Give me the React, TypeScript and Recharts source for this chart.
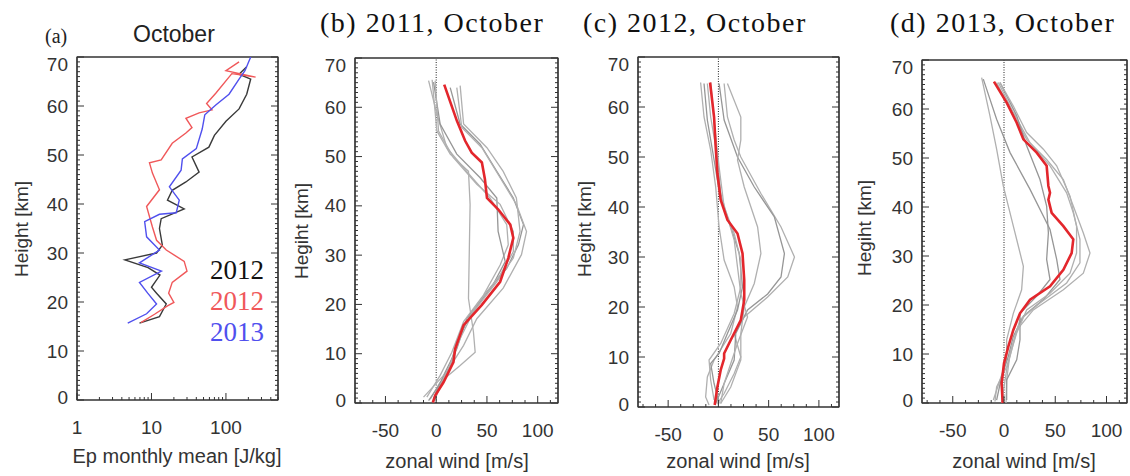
import { ScatterChart, Scatter, XAxis, YAxis, ReferenceLine, ReferenceArea } from 'recharts';

type P = [number, number]; // [value, height km]

// (a) Ep monthly mean, October
const epBlack: P[] = [[6.9,15.7],[12.8,17],[15.8,19.6],[11.7,21.8],[10,23],[13,25.5],[9,27],[4.4,28.6],[11.7,30],[14,31.6],[12.8,35],[13.5,37],[27.5,39],[16.4,40.8],[19,42.8],[29,44.5],[43.6,46.5],[35,49.6],[59,51.6],[70,54],[100,56.9],[150,59.4],[190,62.4],[215,65.5],[150,66.5],[190,68]];
const epRed: P[] = [[7.2,15.8],[11,17.5],[16.4,19.2],[20,19.9],[17,21.8],[19,24],[30,26.3],[27.5,28.3],[15.8,30.6],[11.7,32.6],[10.3,35.3],[8.6,39.5],[12.8,42.9],[10.3,46.3],[9.4,48.4],[13.5,49],[19,52.4],[29,54.5],[35,55.6],[29,57.5],[43.6,58.6],[65,59.2],[55,60.5],[73,62.6],[120,66.6],[250,65.9],[100,67.2],[150,69]];
const epBlue: P[] = [[4.8,15.7],[8.6,17.6],[11.7,19.6],[8.9,21.8],[6.9,24],[13.6,26.3],[6.9,28],[12.8,30.6],[8.6,33.3],[8.1,36.4],[12.8,37.9],[21.5,38.2],[23.6,40.8],[17.4,43.5],[25,46.9],[26,49.2],[40,51.3],[48,55.3],[52,58.2],[73,60.2],[110,62.4],[150,65.5],[180,67.2],[215,70]];

// (b) 2011 zonal wind profiles
const u2011Mean: P[] = [[7.9,64.6],[20.3,57.3],[28.5,53.2],[35,50.8],[45,48.8],[48,45.4],[50,41.6],[61,39.3],[73,36.2],[76,33.5],[71,29.4],[63,24.6],[45,19.9],[27,15.8],[18.7,11],[17,8.3],[7.2,4.2],[-1,1.5],[-3.3,0.1]];
const u2011: P[][] = [
  [[-4,65.6],[0.7,55.2],[13.8,50.5],[31.8,47],[33.4,40.3],[31.8,21.2],[36.7,14.4],[38.4,10.3],[23.6,7.6],[3.9,4.2],[-5.9,0.8]],
  [[13.8,64],[23.6,56.6],[43.3,52.5],[59.7,47],[76,41.6],[86,36.2],[81,32.1],[69.5,27.3],[50,22.6],[30,17.1],[20.3,11],[7.2,5.6],[-2.6,0.8]],
  [[20.3,64],[25.2,55.9],[45,51.8],[63,45.7],[79,40.3],[89,34.8],[84,30.1],[66,23.3],[40,17.1],[27,11.7],[10.5,6.3],[-12.5,1.2]],
  [[-7.5,65.4],[0.7,58.6],[10.5,51.8],[30,47],[53,41.6],[69.5,36.2],[71,32.1],[63,28],[46.6,21.9],[27,16.5],[15.4,10.3],[3.9,5.6],[-9.2,1.2]],
  [[-2.6,65.1],[3.9,56.6],[20.3,50.5],[43.3,45.7],[59.7,41.6],[61,34.8],[68,28.7],[56,24],[33.4,17.8],[20.3,12.4],[13.8,7.6],[0.7,2.9],[-7.5,0.5]],
  [[23.6,64.4],[27,56.6],[50,51.8],[66,47],[79,41.6],[82.6,34.8],[76,29.4],[59.7,24.6],[36.7,18.5],[23.6,13.1],[12,6.9],[2.3,2.9],[-2.6,0.5]],
  [[-1,65.4],[2.3,55.2],[17,49.8],[40,44.4],[63,40.3],[76,34.8],[76,30.7],[63,26],[40,19.9],[23.6,14.4],[17,9],[5.6,4.2],[-1,0.8]],
];

// (c) 2012 zonal wind profiles
const u2012Mean: P[] = [[-8.3,64.9],[-4.3,58],[-2.7,52],[-1,46.7],[2.3,41.4],[9,37.4],[19,34.7],[24,30.7],[25.7,25.4],[25.7,21.4],[22.3,17.4],[12.3,13.4],[5.7,10.7],[5.7,9.7],[2.3,7.4],[-1,4],[-3.7,0.4]];
const u2012: P[][] = [
  [[5.7,64.7],[9,58],[15.7,53.4],[22.3,50],[42.3,42.7],[62.3,36],[75.7,30],[69,26],[49,22],[25.7,18],[15.7,14.7],[22.3,10],[15.7,6.7],[5.7,2.7],[-1,0.7]],
  [[0.7,64.7],[5.7,57.4],[19,50],[35.7,44],[55.7,38],[65.7,30.7],[62.3,26],[49,22.6],[29,19.4],[17.3,14.7],[15.7,9.4],[5.7,4.7],[-2.7,0.7]],
  [[9,64.7],[22.3,58],[22.3,53.4],[19,49.4],[25.7,44],[39,36],[42.3,30.7],[35.7,24.7],[25.7,20],[22.3,14.7],[22.3,9.4],[12.3,4],[2.3,0.7]],
  [[-17.7,64.9],[-14.3,58],[-7.7,51.4],[-2.7,44],[0.7,36],[5.7,29.4],[15.7,24],[19,20],[12.3,14.7],[-4.3,9.4],[-11,6],[-12.7,2],[-9.3,0.4]],
  [[-14.3,64.7],[-11,57.4],[-4.3,49.4],[2.3,41.4],[12.3,36],[20.7,30.7],[24,24],[19,19.4],[9,14.7],[0.7,10.7],[-7.7,8.7],[-4.3,4.7],[0.7,0.7]],
  [[-11,64.7],[-7.7,58],[-1,50],[2.3,42.7],[9,38],[15.7,33.4],[19,28],[22.3,22.7],[29,18],[19,12.7],[12.3,8.7],[5.7,4.7],[2.3,0.7]],
  [[-7.7,64.9],[-4.3,57.4],[0.7,48],[5.7,40],[15.7,34.7],[22.3,29.4],[22.3,24],[15.7,18.7],[2.3,12.7],[-9.3,9.4],[-7.7,5.4],[-4.3,1.4]],
];

// (d) 2013 zonal wind profiles
const u2013Mean: P[] = [[-9.8,65.6],[2.6,61.3],[12.4,57.2],[18.9,53.8],[31.9,51.1],[41.6,48.4],[43.3,44.3],[44.9,42.9],[43.3,41.5],[46.5,38.8],[57.9,36.1],[67.6,33.4],[66,30.6],[57.9,27.2],[44.9,23.8],[25.4,21.1],[15.6,18.3],[9.1,14.9],[4.2,11.5],[0,8.1],[-2.3,4],[-1.3,0]];
const u2013: P[][] = [
  [[-21.8,66.4],[-13.7,58.6],[-7.2,51.8],[-0.7,44.3],[9.1,36.1],[18.9,27.9],[17.2,23.1],[9.1,18.3],[2.6,12.9],[2.6,8.8],[-3.9,4.7],[-10.4,0.6]],
  [[-20.2,66.1],[-7.2,57.9],[5.9,51.1],[25.4,43.6],[44.9,35.4],[51.4,29.3],[54.6,25.2],[38.4,21.1],[18.9,17.7],[9.1,13.6],[4.2,9.5],[-2.3,5.4],[-7.2,0.6]],
  [[-7.2,65.4],[5.9,60],[22.1,53.8],[41.6,49.7],[57.9,45.6],[67.6,40.2],[77.4,34.7],[83.9,30.6],[77.4,26.5],[57.9,23.1],[28.6,19],[12.4,14.9],[5.9,10.2],[2.6,4.7],[2,0]],
  [[-5.5,65.4],[9.1,59.3],[25.4,53.1],[44.9,48.4],[61.1,42.9],[67.6,38.8],[74.1,33.4],[74.1,28.6],[61.1,24.5],[35.1,20.4],[15.6,17],[9.1,12.2],[2.6,6.8],[-2.3,0]],
  [[-3.9,65.4],[12.4,58.6],[22.1,52.5],[35.1,45.6],[41.6,40.2],[43.3,34.7],[41.6,29.3],[44.9,25.2],[31.9,21.8],[15.6,18.3],[15.6,12.9],[12.4,8.8],[2.6,4.7],[2.6,0.6]],
  [[-3.9,65.4],[9.1,60.6],[22.1,55.2],[38.4,51.8],[51.4,48.4],[64.4,42.2],[70.8,36.1],[70.8,30.6],[64.4,26.5],[44.9,22.4],[22.1,19],[12.4,14.3],[2.6,7.4],[-7.2,3.3],[-8.8,0.3]],
];

// ticks
const kmLabels = [0, 10, 20, 30, 40, 50, 60, 70];
const kmMinor = Array.from({ length: 71 }, (_, i) => i);
const windLabels = [-50, 0, 50, 100];
const windMinor = [-75, -62.5, -37.5, -25, -12.5, 12.5, 25, 37.5, 62.5, 75, 87.5, 112.5];
const epLabels = [1, 10, 100];
const epMinor = [2, 3, 4, 5, 6, 7, 8, 9, 20, 30, 40, 50, 60, 70, 80, 90, 200, 300, 400, 500];

const H = 476;
const INK = '#333';
const SANS = '"Liberation Sans", Arial, sans-serif';
const SERIF = '"Liberation Serif", "Times New Roman", serif';
const RED = '#e3262c';
const GRAY = '#b0b0b0';
const GRAY2 = '#969696';

type Side = 'bottom' | 'top' | 'left' | 'right';

function makeTick(side: Side, majors: number[], labels: number[]) {
  return (props: any) => {
    const { x, y, payload } = props;
    const v = payload.value;
    const len = majors.includes(v) ? 7 : 3;
    let line;
    if (side === 'bottom') line = <line x1={x} x2={x} y1={y} y2={y - len} stroke={INK} />;
    else if (side === 'top') line = <line x1={x} x2={x} y1={y} y2={y + len} stroke={INK} />;
    else if (side === 'left') line = <line x1={x} x2={x + len} y1={y} y2={y} stroke={INK} />;
    else line = <line x1={x} x2={x - len} y1={y} y2={y} stroke={INK} />;
    let text = null;
    if (labels.includes(v)) {
      if (side === 'bottom') {
        text = (
          <text x={x} y={y + 27} textAnchor="middle" dominantBaseline="central" fontSize={19} fill={INK} fontFamily={SANS}>
            {v}
          </text>
        );
      } else if (side === 'left') {
        const dy = v === 70 ? 7 : v === 0 ? -3 : 0;
        text = (
          <text x={x - 9} y={y + dy} textAnchor="end" dominantBaseline="central" fontSize={19} fill={INK} fontFamily={SANS}>
            {v}
          </text>
        );
      }
    }
    return (
      <g>
        {line}
        {text}
      </g>
    );
  };
}

const hide = () => <g />;

interface Curve {
  pts: P[];
  color: string;
  width: number;
}

interface PanelCfg {
  left: number;
  width: number;
  box: [number, number, number, number];
  xDomain: [number, number];
  log?: boolean;
  xLabels: number[];
  xMinor: number[];
  zero?: boolean;
}

function Panel({ cfg, curves }: { cfg: PanelCfg; curves: Curve[] }) {
  const { left, width, box, xDomain, log, xLabels, xMinor, zero } = cfg;
  const [x0, x1, y0, y1] = box;
  const AH = 60;
  const AW = 50;
  const margin = { top: y0 - 1, bottom: H - y1 - AH, left: x0 - left - AW, right: left + width - x1 - 1 };
  const xTicks = [...xLabels, ...xMinor].sort((a, b) => a - b);
  const scale = log ? 'log' : undefined;
  return (
    <div style={{ position: 'absolute', left, top: 0, width, height: H }}>
      <ScatterChart width={width} height={H} margin={margin}>
        <XAxis
          xAxisId="b"
          type="number"
          dataKey="x"
          scale={scale}
          domain={xDomain}
          allowDataOverflow
          ticks={xTicks}
          interval={0}
          height={AH}
          tickLine={false}
          tickSize={0}
          tickMargin={0}
          axisLine={{ stroke: INK, strokeWidth: 1.2 }}
          tick={makeTick('bottom', xLabels, xLabels)}
        />
        <XAxis
          xAxisId="t"
          orientation="top"
          type="number"
          scale={scale}
          domain={xDomain}
          allowDataOverflow
          ticks={xTicks}
          interval={0}
          height={1}
          tickLine={false}
          tickSize={0}
          tickMargin={0}
          axisLine={{ stroke: INK, strokeWidth: 1.2 }}
          tick={makeTick('top', xLabels, [])}
        />
        <YAxis
          yAxisId="l"
          type="number"
          dataKey="y"
          domain={[0, 70]}
          allowDataOverflow
          ticks={kmMinor}
          interval={0}
          width={AW}
          tickLine={false}
          tickSize={0}
          tickMargin={0}
          axisLine={{ stroke: INK, strokeWidth: 1.2 }}
          tick={makeTick('left', kmLabels, kmLabels)}
        />
        <YAxis
          yAxisId="r"
          orientation="right"
          type="number"
          domain={[0, 70]}
          allowDataOverflow
          ticks={kmMinor}
          interval={0}
          width={1}
          tickLine={false}
          tickSize={0}
          tickMargin={0}
          axisLine={{ stroke: INK, strokeWidth: 1.2 }}
          tick={makeTick('right', kmLabels, [])}
        />
        <ReferenceArea
          xAxisId="b"
          yAxisId="l"
          x1={xDomain[0]}
          x2={xDomain[1]}
          y1={0}
          y2={70}
          fill="none"
          fillOpacity={0}
          stroke={INK}
          strokeWidth={1.2}
          strokeOpacity={1}
        />
        {zero && (
          <ReferenceLine xAxisId="b" yAxisId="l" x={0} stroke="#222" strokeWidth={1} strokeDasharray="1 1.5" />
        )}
        {curves.map((c, i) => (
          <Scatter
            key={i}
            xAxisId="b"
            yAxisId="l"
            data={c.pts.map(([x, y]) => ({ x, y }))}
            fill={c.color}
            line={{ stroke: c.color, strokeWidth: c.width }}
            shape={hide}
            isAnimationActive={false}
          />
        ))}
      </ScatterChart>
    </div>
  );
}

const abs = (l: number, t: number, extra: React.CSSProperties = {}): React.CSSProperties => ({
  position: 'absolute',
  left: l,
  top: t,
  whiteSpace: 'nowrap',
  lineHeight: 1,
  pointerEvents: 'none',
  ...extra,
});

function YTitle({ x, y, text }: { x: number; y: number; text: string }) {
  return (
    <div
      style={abs(x, y, {
        transform: 'translate(-50%, -50%) rotate(-90deg)',
        fontFamily: SANS,
        fontSize: 19,
        color: INK,
      })}
    >
      {text}
    </div>
  );
}

function XTitle({ x, y, text }: { x: number; y: number; text: string }) {
  return (
    <div style={abs(x, y, { transform: 'translate(-50%, -50%)', fontFamily: SANS, fontSize: 20, color: INK })}>
      {text}
    </div>
  );
}

function Title({ x, text }: { x: number; text: string }) {
  return (
    <div style={abs(x, 9, { fontFamily: SERIF, fontSize: 28, letterSpacing: 1.5, color: '#111' })}>{text}</div>
  );
}

const grays = (list: P[][]): Curve[] =>
  list.map((pts, i) => ({ pts, color: i % 3 === 1 ? GRAY2 : GRAY, width: 1.3 }));

export default function App() {
  return (
    <div style={{ position: 'absolute', left: 0, top: 0, width: 1130, height: H, background: '#fff', overflow: 'hidden' }}>
      <Panel
        cfg={{ left: 0, width: 290, box: [77, 278, 57, 400], xDomain: [1, 500], log: true, xLabels: epLabels, xMinor: epMinor }}
        curves={[
          { pts: epBlack, color: '#3a3a3a', width: 1.4 },
          { pts: epRed, color: '#f0585a', width: 1.4 },
          { pts: epBlue, color: '#5050ee', width: 1.4 },
        ]}
      />
      <Panel
        cfg={{ left: 290, width: 280, box: [355, 558, 58, 403], xDomain: [-80, 120], xLabels: windLabels, xMinor: windMinor, zero: true }}
        curves={[...grays(u2011), { pts: u2011Mean, color: RED, width: 2.6 }]}
      />
      <Panel
        cfg={{ left: 570, width: 280, box: [638, 839, 57, 407], xDomain: [-80, 120], xLabels: windLabels, xMinor: windMinor, zero: true }}
        curves={[...grays(u2012), { pts: u2012Mean, color: RED, width: 2.6 }]}
      />
      <Panel
        cfg={{ left: 850, width: 280, box: [922, 1127, 60, 403], xDomain: [-80, 120], xLabels: windLabels, xMinor: windMinor, zero: true }}
        curves={[...grays(u2013), { pts: u2013Mean, color: RED, width: 2.6 }]}
      />

      <div style={abs(45, 26, { fontFamily: SERIF, fontSize: 20, color: '#222' })}>(a)</div>
      <div style={abs(133, 23, { fontFamily: SANS, fontSize: 23, color: '#222' })}>October</div>
      <div style={abs(210, 257, { fontFamily: SERIF, fontSize: 27, color: '#111' })}>2012</div>
      <div style={abs(210, 288, { fontFamily: SERIF, fontSize: 27, color: '#f0585a' })}>2012</div>
      <div style={abs(210, 319, { fontFamily: SERIF, fontSize: 27, color: '#5050ee' })}>2013</div>

      <Title x={320} text="(b) 2011, October" />
      <Title x={583} text="(c) 2012, October" />
      <Title x={890} text="(d) 2013, October" />

      <YTitle x={21} y={229} text="Height [km]" />
      <YTitle x={301} y={231} text="Hegiht [km]" />
      <YTitle x={584} y={229} text="Hegiht [km]" />
      <YTitle x={864} y={228} text="Hegiht [km]" />

      <XTitle x={177} y={456} text="Ep monthly mean  [J/kg]" />
      <XTitle x={457} y={461} text="zonal wind [m/s]" />
      <XTitle x={738} y={461} text="zonal wind [m/s]" />
      <XTitle x={1024} y={461} text="zonal wind [m/s]" />
    </div>
  );
}
